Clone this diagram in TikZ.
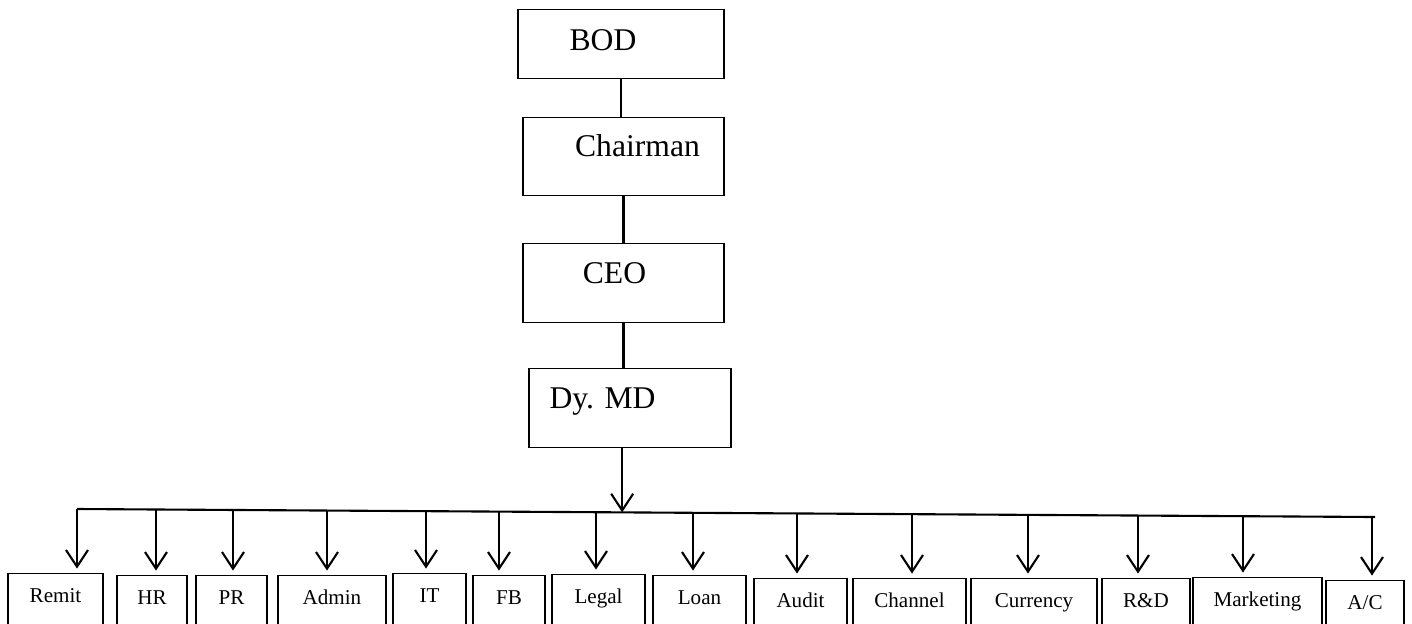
\documentclass[tikz,border=0pt]{standalone}
\usepackage{fontspec}
\setmainfont{Liberation Serif}
\usetikzlibrary{arrows.meta,calc}

\tikzset{
  post/.style={draw,line width=0.8pt,inner sep=0pt,anchor=north},
  dept/.style={post,minimum height=1.04cm,font=\fontsize{12}{14}\selectfont,
    text height=8pt,text depth=4.6pt},
  title/.style={anchor=base,inner sep=0pt,font=\fontsize{18}{20}\selectfont},
  link/.style={line width=1.2pt},
  arr/.style={link,-{Straight Barb[length=9.5pt,width=12.5pt]},shorten >=2.5pt}
}

\begin{document}
\begin{tikzpicture}[x=0.02cm,y=-0.02cm]
  \useasboundingbox (0,0) rectangle (1412,623);
  % the chain on top
  \node[post,minimum width=4.12cm,minimum height=1.38cm] (bod)   at (621,9)     {};
  \node[post,minimum width=4.02cm,minimum height=1.56cm] (chair) at (623.5,117) {};
  \node[post,minimum width=4.02cm,minimum height=1.58cm] (ceo)   at (623.5,243) {};
  \node[post,minimum width=4.04cm,minimum height=1.58cm] (dymd)  at (630,368)   {};
  \node[title] (bodtxt)   at (603,50)      {BOD};
  \node[title] (chairtxt) at (637.5,156.7) {Chairman};
  \node[title] (ceotxt)   at (614.5,283.3) {CEO};
  \node[title] (dymdtxt)  at (602.5,408.3) {Dy. MD};
  \draw[link] (bod.south)   -- (bod.south |- chair.north);
  \draw[link] (chair.south) -- (chair.south |- ceo.north);
  \draw[link] (ceo.south)   -- (ceo.south |- dymd.north);
  % the bar
  \coordinate (barL) at (77,509);
  \coordinate (barR) at (1375,517);
  \draw[link] (barL) -- (barR);
  \coordinate (hub) at ($(barL)!0.42!(barR)$);
  \draw[arr,shorten >=0pt] (hub |- dymd.south) -- (hub);
  % departments
  \foreach \n/\cx/\ty/\w/\txt/\ax in {
      remit/55.5/573/95/Remit/77, hr/152/575/70/HR/156, pr/231.5/575/71/PR/233,
      admin/332/575/108/Admin/327, it/429.5/573/73/IT/426, fb/509/575/72/FB/499,
      legal/598.5/574/93/Legal/596, loan/699.5/575/93/Loan/693,
      audit/800.5/578/93/Audit/797, channel/909.5/578/113/Channel/912,
      currency/1034/578/126/Currency/1028, rd/1146/578/88/R\&D/1138,
      mkt/1257.5/577/129/Marketing/1243, ac/1365/580/78/{A/C}/1372}{
    \node[dept,minimum width=\w*0.02cm] (\n) at (\cx,\ty) {\txt};
    \pgfmathsetmacro\f{(\ax-77)/1298}
    \coordinate (t\n) at ($(barL)!\f!(barR)$);
    \draw[arr] (t\n) -- (t\n |- \n.north);
  }
\end{tikzpicture}
\end{document}
